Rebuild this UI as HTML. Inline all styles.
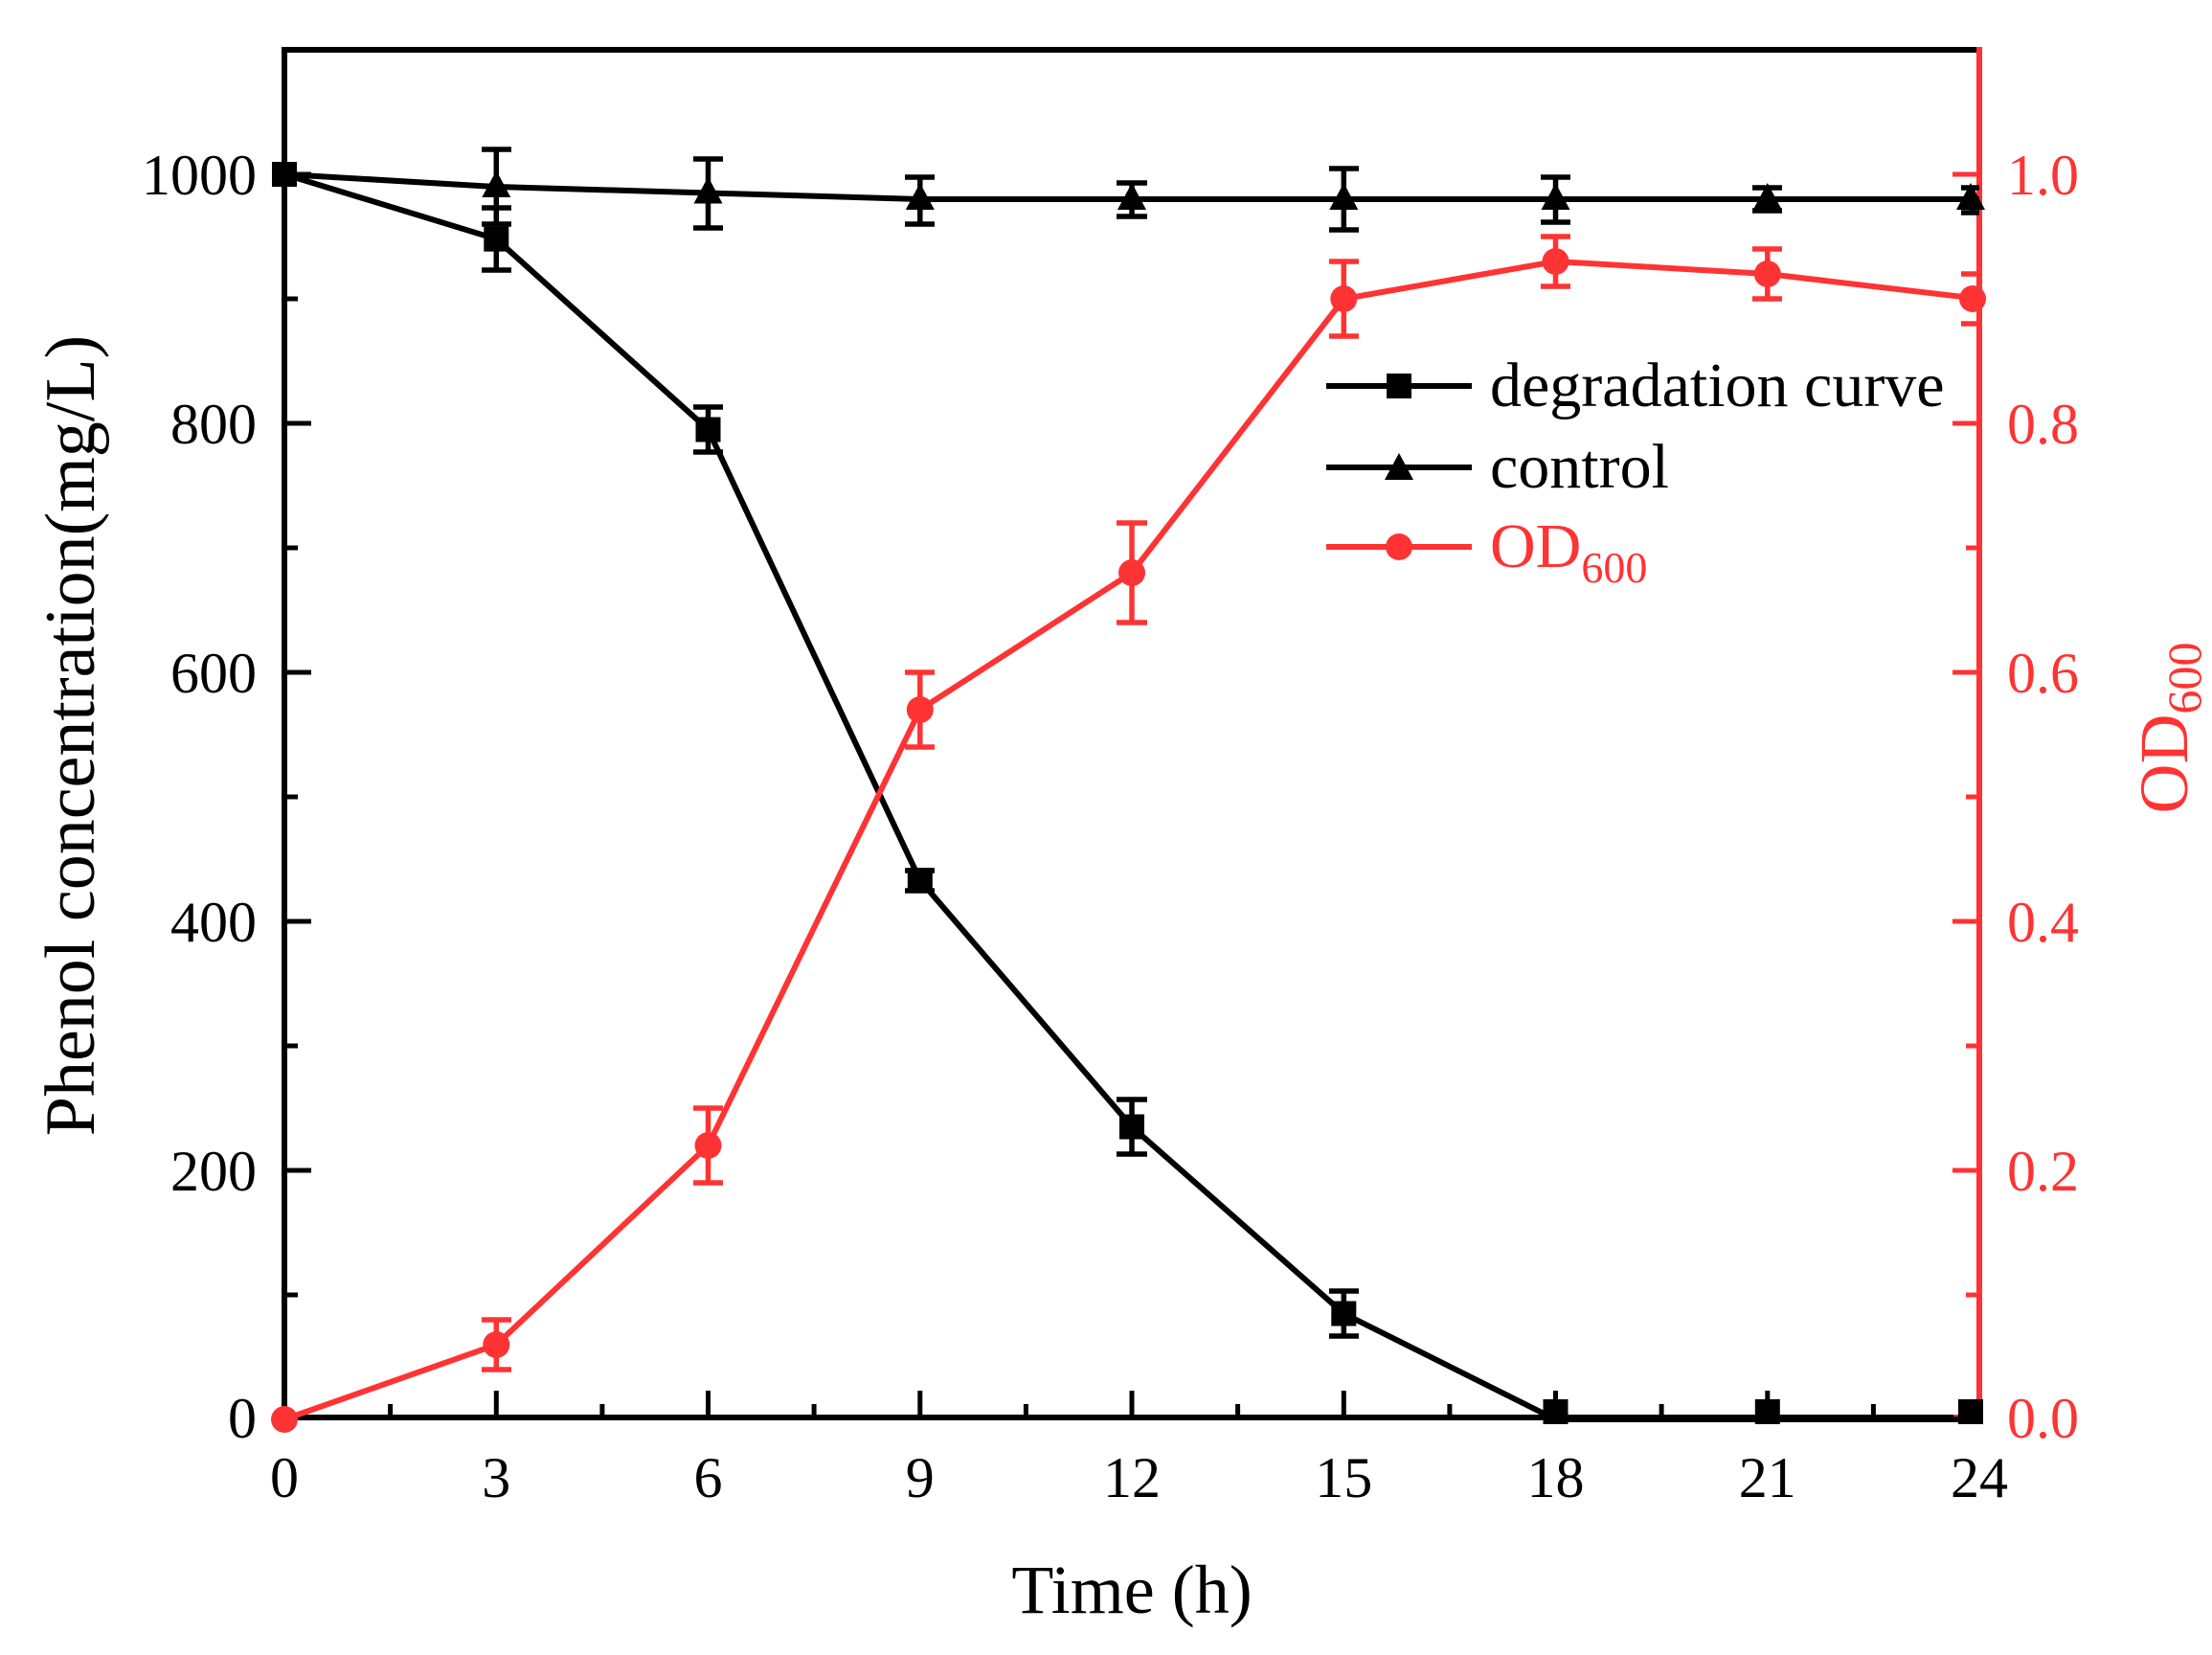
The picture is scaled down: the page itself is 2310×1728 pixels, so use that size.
<!DOCTYPE html>
<html><head><meta charset="utf-8"><style>html,body{margin:0;padding:0;background:#fff}svg{display:block}</style></head><body>
<svg width="2310" height="1728" viewBox="0 0 2310 1728" xmlns="http://www.w3.org/2000/svg" font-family="Liberation Serif, serif">
<defs>
<g id="sq"><rect x="-13" y="-13" width="26" height="26" fill="#000"/></g>
<g id="tri"><polygon points="0,-17 15,11 -15,11" fill="#000"/></g>
<g id="cir"><circle r="14" fill="#f33"/></g>
</defs>
<g stroke="#000" stroke-width="6" fill="none">
<line x1="297" y1="52" x2="2067" y2="52"/>
<line x1="297" y1="49" x2="297" y2="1483"/>
<line x1="294" y1="1480" x2="2060" y2="1480"/>
</g>
<line x1="2067" y1="49" x2="2067" y2="1483" stroke="#f33" stroke-width="6"/>
<line x1="2040" y1="1480" x2="2070" y2="1480" stroke="#f33" stroke-width="6"/>
<g stroke="#000" stroke-width="5">
<line x1="297" y1="182" x2="325" y2="182"/><line x1="297" y1="312" x2="311" y2="312"/>
<line x1="297" y1="442" x2="325" y2="442"/><line x1="297" y1="572" x2="311" y2="572"/>
<line x1="297" y1="702" x2="325" y2="702"/><line x1="297" y1="832" x2="311" y2="832"/>
<line x1="297" y1="962" x2="325" y2="962"/><line x1="297" y1="1092" x2="311" y2="1092"/>
<line x1="297" y1="1222" x2="325" y2="1222"/><line x1="297" y1="1352" x2="311" y2="1352"/>
</g>
<g stroke="#000" stroke-width="5">
<line x1="407.6" y1="1480" x2="407.6" y2="1466"/><line x1="518.3" y1="1480" x2="518.3" y2="1452"/>
<line x1="628.9" y1="1480" x2="628.9" y2="1466"/><line x1="739.5" y1="1480" x2="739.5" y2="1452"/>
<line x1="850.1" y1="1480" x2="850.1" y2="1466"/><line x1="960.8" y1="1480" x2="960.8" y2="1452"/>
<line x1="1071.4" y1="1480" x2="1071.4" y2="1466"/><line x1="1182" y1="1480" x2="1182" y2="1452"/>
<line x1="1292.6" y1="1480" x2="1292.6" y2="1466"/><line x1="1403.3" y1="1480" x2="1403.3" y2="1452"/>
<line x1="1513.9" y1="1480" x2="1513.9" y2="1466"/><line x1="1624.5" y1="1480" x2="1624.5" y2="1452"/>
<line x1="1735.1" y1="1480" x2="1735.1" y2="1466"/><line x1="1845.8" y1="1480" x2="1845.8" y2="1452"/>
<line x1="1956.4" y1="1480" x2="1956.4" y2="1466"/>
</g>
<g stroke="#f33" stroke-width="5">
<line x1="2067" y1="182" x2="2039" y2="182"/><line x1="2067" y1="312" x2="2053" y2="312"/>
<line x1="2067" y1="442" x2="2039" y2="442"/><line x1="2067" y1="572" x2="2053" y2="572"/>
<line x1="2067" y1="702" x2="2039" y2="702"/><line x1="2067" y1="832" x2="2053" y2="832"/>
<line x1="2067" y1="962" x2="2039" y2="962"/><line x1="2067" y1="1092" x2="2053" y2="1092"/>
<line x1="2067" y1="1222" x2="2039" y2="1222"/><line x1="2067" y1="1352" x2="2053" y2="1352"/>
</g>
<g font-size="60" text-anchor="end" fill="#000">
<text x="268" y="203">1000</text><text x="268" y="463">800</text><text x="268" y="723">600</text>
<text x="268" y="983">400</text><text x="268" y="1243">200</text><text x="268" y="1501">0</text>
</g>
<g font-size="60" text-anchor="middle" fill="#000">
<text x="297" y="1563">0</text><text x="518.3" y="1563">3</text><text x="739.5" y="1563">6</text>
<text x="960.8" y="1563">9</text><text x="1182" y="1563">12</text><text x="1403.3" y="1563">15</text>
<text x="1624.5" y="1563">18</text><text x="1845.8" y="1563">21</text><text x="2067" y="1563">24</text>
</g>
<g font-size="60" fill="#f33">
<text x="2096" y="203">1.0</text><text x="2096" y="463">0.8</text><text x="2096" y="723">0.6</text>
<text x="2096" y="983">0.4</text><text x="2096" y="1243">0.2</text><text x="2096" y="1501">0.0</text>
</g>
<text x="1182" y="1684" font-size="72" text-anchor="middle">Time (h)</text>
<text transform="translate(98,768) rotate(-90)" font-size="74" text-anchor="middle">Phenol concentration(mg/L)</text>
<text transform="translate(2284,760) rotate(-90)" font-size="72" text-anchor="middle" fill="#f33">OD<tspan font-size="50" dy="14">600</tspan></text>

<polyline fill="none" stroke="#000" stroke-width="6" points="297,182 518.3,249.6 739.5,448.5 960.8,919.1 1182,1176.5 1403.3,1371.5 1624.5,1482 1845.8,1482 2067,1482"/>
<g stroke="#000" stroke-width="5.5">
<line x1="518.3" y1="217" x2="518.3" y2="282"/><line x1="503" y1="217" x2="534" y2="217"/><line x1="503" y1="282" x2="534" y2="282"/>
<line x1="739.5" y1="425" x2="739.5" y2="472"/><line x1="724" y1="425" x2="755" y2="425"/><line x1="724" y1="472" x2="755" y2="472"/>
<line x1="960.8" y1="909" x2="960.8" y2="930"/><line x1="945" y1="909" x2="976" y2="909"/><line x1="945" y1="930" x2="976" y2="930"/>
<line x1="1182" y1="1148" x2="1182" y2="1205"/><line x1="1166" y1="1148" x2="1198" y2="1148"/><line x1="1166" y1="1205" x2="1198" y2="1205"/>
<line x1="1403.3" y1="1348" x2="1403.3" y2="1395"/><line x1="1388" y1="1348" x2="1419" y2="1348"/><line x1="1388" y1="1395" x2="1419" y2="1395"/>
</g>
<use href="#sq" x="297" y="182"/><use href="#sq" x="518.3" y="249.6"/><use href="#sq" x="739.5" y="448.5"/>
<use href="#sq" x="960.8" y="919.1"/><use href="#sq" x="1182" y="1176.5"/><use href="#sq" x="1403.3" y="1371.5"/>
<use href="#sq" x="1624.5" y="1474"/><use href="#sq" x="1845.8" y="1474"/><use href="#sq" x="2058" y="1474"/>

<polyline fill="none" stroke="#000" stroke-width="6" points="297,182 518.3,195 739.5,201.5 960.8,208 1182,208 1403.3,208 1624.5,208 1845.8,208 2067,208"/>
<g stroke="#000" stroke-width="5.5">
<line x1="518.3" y1="156" x2="518.3" y2="234"/><line x1="503" y1="156" x2="534" y2="156"/><line x1="503" y1="234" x2="534" y2="234"/>
<line x1="739.5" y1="166" x2="739.5" y2="238"/><line x1="724" y1="166" x2="755" y2="166"/><line x1="724" y1="238" x2="755" y2="238"/>
<line x1="960.8" y1="185" x2="960.8" y2="234"/><line x1="945" y1="185" x2="976" y2="185"/><line x1="945" y1="234" x2="976" y2="234"/>
<line x1="1182" y1="191" x2="1182" y2="226"/><line x1="1166" y1="191" x2="1198" y2="191"/><line x1="1166" y1="226" x2="1198" y2="226"/>
<line x1="1403.3" y1="176" x2="1403.3" y2="240"/><line x1="1388" y1="176" x2="1419" y2="176"/><line x1="1388" y1="240" x2="1419" y2="240"/>
<line x1="1624.5" y1="185" x2="1624.5" y2="232"/><line x1="1609" y1="185" x2="1640" y2="185"/><line x1="1609" y1="232" x2="1640" y2="232"/>
<line x1="1845.8" y1="196" x2="1845.8" y2="220"/><line x1="1830" y1="196" x2="1861" y2="196"/><line x1="1830" y1="220" x2="1861" y2="220"/>
<line x1="2060" y1="196" x2="2060" y2="222"/><line x1="2048" y1="196" x2="2067" y2="196"/><line x1="2048" y1="222" x2="2067" y2="222"/>
</g>
<use href="#tri" x="518.3" y="195"/><use href="#tri" x="739.5" y="201.5"/><use href="#tri" x="960.8" y="208"/>
<use href="#tri" x="1182" y="208"/><use href="#tri" x="1403.3" y="208"/><use href="#tri" x="1624.5" y="208"/>
<use href="#tri" x="1845.8" y="208"/><use href="#tri" x="2058" y="208"/>

<polyline fill="none" stroke="#f33" stroke-width="6" points="297,1482 518.3,1404 739.5,1196 960.8,741 1182,598 1403.3,312 1624.5,273 1845.8,286 2067,312"/>
<g stroke="#f33" stroke-width="5.5">
<line x1="518.3" y1="1378" x2="518.3" y2="1430"/><line x1="503" y1="1378" x2="534" y2="1378"/><line x1="503" y1="1430" x2="534" y2="1430"/>
<line x1="739.5" y1="1157" x2="739.5" y2="1235"/><line x1="724" y1="1157" x2="755" y2="1157"/><line x1="724" y1="1235" x2="755" y2="1235"/>
<line x1="960.8" y1="702" x2="960.8" y2="780"/><line x1="945" y1="702" x2="976" y2="702"/><line x1="945" y1="780" x2="976" y2="780"/>
<line x1="1182" y1="546" x2="1182" y2="650"/><line x1="1166" y1="546" x2="1198" y2="546"/><line x1="1166" y1="650" x2="1198" y2="650"/>
<line x1="1403.3" y1="273" x2="1403.3" y2="351"/><line x1="1388" y1="273" x2="1419" y2="273"/><line x1="1388" y1="351" x2="1419" y2="351"/>
<line x1="1624.5" y1="247" x2="1624.5" y2="299"/><line x1="1609" y1="247" x2="1640" y2="247"/><line x1="1609" y1="299" x2="1640" y2="299"/>
<line x1="1845.8" y1="260" x2="1845.8" y2="312"/><line x1="1830" y1="260" x2="1861" y2="260"/><line x1="1830" y1="312" x2="1861" y2="312"/>
<line x1="2048" y1="286" x2="2067" y2="286"/><line x1="2048" y1="338" x2="2067" y2="338"/>
</g>
<use href="#cir" x="297" y="1482"/><use href="#cir" x="518.3" y="1404"/><use href="#cir" x="739.5" y="1196"/>
<use href="#cir" x="960.8" y="741"/><use href="#cir" x="1182" y="598"/><use href="#cir" x="1403.3" y="312"/>
<use href="#cir" x="1624.5" y="273"/><use href="#cir" x="1845.8" y="286"/><use href="#cir" x="2060" y="312"/>

<line x1="1385" y1="403" x2="1537" y2="403" stroke="#000" stroke-width="6"/>
<use href="#sq" x="1461" y="403"/>
<text x="1556" y="424" font-size="66">degradation curve</text>
<line x1="1385" y1="488" x2="1537" y2="488" stroke="#000" stroke-width="6"/>
<use href="#tri" x="1461" y="490"/>
<text x="1556" y="509" font-size="66">control</text>
<line x1="1385" y1="571" x2="1537" y2="571" stroke="#f33" stroke-width="6"/>
<use href="#cir" x="1461" y="571"/>
<text x="1556" y="592" font-size="66" fill="#f33">OD<tspan font-size="46" dy="16">600</tspan></text>
</svg>
</body></html>
